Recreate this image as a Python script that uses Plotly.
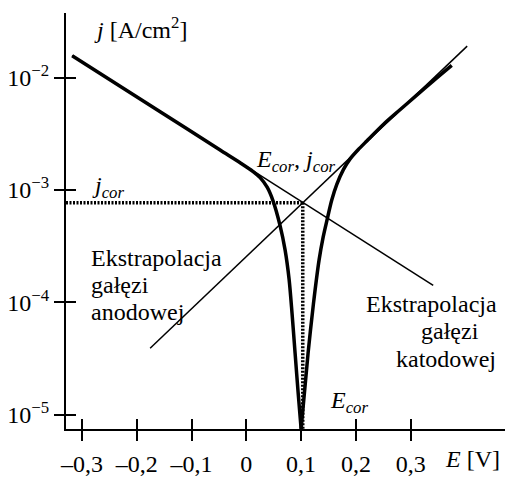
import plotly.graph_objects as go

# Polarization curve (Tafel plot): potential E [V] vs current density j [A/cm2]
# cathodic branch (down to the corrosion potential)
E_left = [-0.3177, -0.1572, -0.0478, -0.0113, 0.0124, 0.0252, 0.0380, 0.0489, 0.0616,
          0.0708, 0.0781, 0.0835, 0.0890, 0.0945, 0.1000]
j_left = [1.566e-2, 4.98e-3, 2.27e-3, 1.75e-3, 1.46e-3, 1.29e-3, 1.06e-3, 7.98e-4, 4.83e-4,
          2.92e-4, 1.60e-4, 7.90e-5, 3.54e-5, 1.58e-5, 7.5e-6]
# anodic branch (up from the corrosion potential)
E_right = [0.1000, 0.1127, 0.1224, 0.1328, 0.1401, 0.1474, 0.1559, 0.1651, 0.1771, 0.1894,
           0.2044, 0.2198, 0.2500, 0.2804, 0.3110, 0.3412, 0.3748]
j_right = [7.5e-6, 3.54e-5, 9.66e-5, 2.39e-4, 3.79e-4, 5.45e-4, 8.14e-4, 1.124e-3, 1.52e-3,
           1.895e-3, 2.295e-3, 2.734e-3, 3.833e-3, 5.18e-3, 7.00e-3, 9.38e-3, 1.288e-2]

# Tafel extrapolation lines (end points)
E_cath = [-0.318, 0.341]
j_cath = [1.57e-2, 1.42e-4]
E_anod = [-0.1755, 0.403]
j_anod = [3.91e-5, 1.91e-2]

# Corrosion point
E_cor = 0.103
j_cor = 7.71e-4

# Axis settings
E_MIN, E_MAX = -0.329, 0.472
LOGJ_MIN, LOGJ_MAX = -5.127, -1.424
x_tickvals = [-0.3, -0.2, -0.1, 0, 0.1, 0.2, 0.3]
x_ticktext = ["\u20130,3", "\u20130,2", "\u20130,1", "0", "0,1", "0,2", "0,3"]
y_tickvals = [1e-5, 1e-4, 1e-3, 1e-2]
y_ticktext = ["10<sup>\u22125</sup>", "10<sup>\u22124</sup>", "10<sup>\u22123</sup>", "10<sup>\u22122</sup>"]

FONT = "'Liberation Serif', 'Times New Roman', Times, serif"
FS = 24

fig = go.Figure()

# dotted guides to the corrosion point
dot_style = dict(color="black", width=3.5, dash="2px,1.5px")
fig.add_trace(go.Scatter(x=[E_MIN, E_cor], y=[j_cor, j_cor], mode="lines",
                         line=dot_style, hoverinfo="skip"))
fig.add_trace(go.Scatter(x=[E_cor, E_cor], y=[j_cor, 10 ** LOGJ_MIN], mode="lines",
                         line=dot_style, hoverinfo="skip"))

# extrapolated Tafel lines
fig.add_trace(go.Scatter(x=E_cath, y=j_cath, mode="lines", line=dict(color="black", width=1.5)))
fig.add_trace(go.Scatter(x=E_anod, y=j_anod, mode="lines", line=dict(color="black", width=1.5)))

# measured polarization curve, two branches meeting at the sharp minimum
curve_style = dict(color="black", width=3.5, shape="spline", smoothing=0.8)
fig.add_trace(go.Scatter(x=E_left, y=j_left, mode="lines", line=curve_style))
fig.add_trace(go.Scatter(x=E_right, y=j_right, mode="lines", line=curve_style))

# helper trace so the inner-tick axes are drawn
fig.add_trace(go.Scatter(x=[E_MIN], y=[1e-3], xaxis="x2", yaxis="y2", mode="markers",
                         marker=dict(opacity=0), hoverinfo="skip"))

tick_common = dict(showgrid=False, zeroline=False, tickcolor="black", tickwidth=2, ticklen=10)

fig.update_layout(
    width=507, height=479,
    margin=dict(l=66, r=2, t=13, b=42),
    paper_bgcolor="white", plot_bgcolor="white",
    showlegend=False,
    font=dict(family=FONT, size=FS, color="black"),
    xaxis=dict(range=[E_MIN, E_MAX], tickvals=x_tickvals, ticktext=x_ticktext,
               ticks="outside", showline=True, linecolor="black", linewidth=2,
               ticklabelstandoff=2,
               tickfont=dict(family=FONT, size=FS, color="black"), **tick_common),
    yaxis=dict(type="log", range=[LOGJ_MIN, LOGJ_MAX], tickvals=y_tickvals, ticktext=y_ticktext,
               ticks="outside", showline=True, linecolor="black", linewidth=2,
               tickfont=dict(family=FONT, size=FS, color="black"), **tick_common),
    xaxis2=dict(overlaying="x", anchor="y", side="bottom", range=[E_MIN, E_MAX],
                tickvals=x_tickvals, ticks="inside", showticklabels=False, showline=False,
                **tick_common),
    yaxis2=dict(overlaying="y", anchor="x", side="left", type="log", range=[LOGJ_MIN, LOGJ_MAX],
                tickvals=y_tickvals, ticks="inside", showticklabels=False, showline=False,
                **tick_common),
)

# text labels: (x in E, y in log10 j, text, xanchor)
labels = [
    (-0.2794, -1.560, "<i>j</i> [A/cm<sup>2</sup>]", "left"),
    (-0.283, -2.975, "<i>j<sub>cor</sub></i>", "left"),
    (0.0161, -2.740, "<i>E<sub>cor</sub>, j<sub>cor</sub></i>", "left"),
    (0.151, -4.889, "<i>E<sub>cor</sub></i>", "left"),
    (-0.2849, -3.605, "Ekstrapolacja", "left"),
    (-0.2849, -3.846, "gałęzi", "left"),
    (-0.2849, -4.087, "anodowej", "left"),
    (0.4592, -4.018, "Ekstrapolacja", "right"),
    (0.4264, -4.259, "gałęzi", "right"),
    (0.4574, -4.500, "katodowej", "right"),
]
for x, y, text, xa in labels:
    fig.add_annotation(xref="x", yref="y", x=x, y=y, text=text, xanchor=xa, yanchor="middle",
                       showarrow=False, font=dict(family=FONT, size=FS, color="black"), borderpad=0)

fig.add_annotation(xref="x", yref="paper", x=0.3608, y=-0.072, text="<i>E</i> [V]",
                   xanchor="left", yanchor="middle", showarrow=False,
                   font=dict(family=FONT, size=FS, color="black"), borderpad=0)

fig.write_html("out.html")
